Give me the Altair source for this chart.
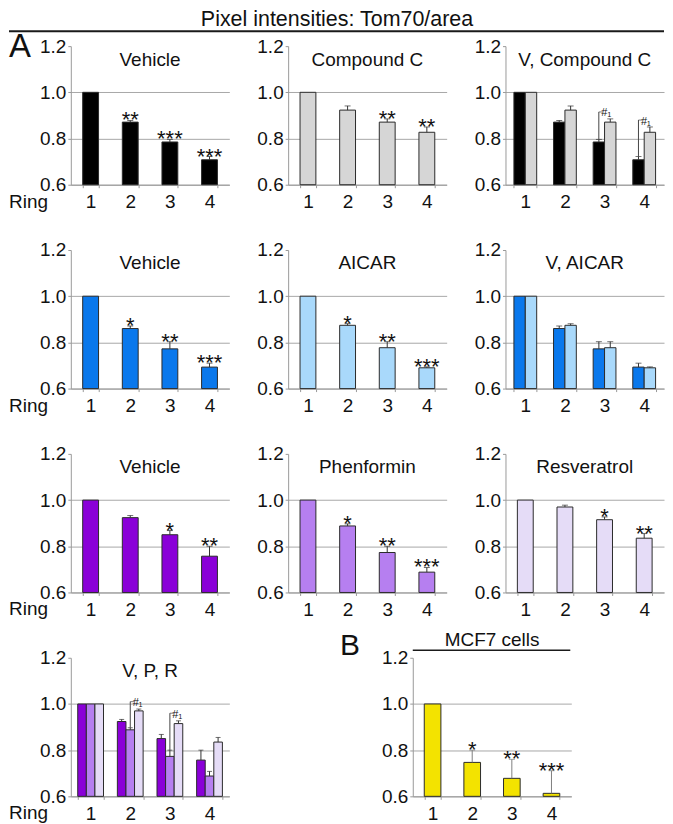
import altair as alt
import pandas as pd

FONT = "Liberation Sans"

rings = ["1", "2", "3", "4"]
y_ticks = [0.6, 0.8, 1.0, 1.2]

# Row 1
veh_cc = [1.0, 0.871, 0.785, 0.708]
veh_cc_err = [0.0, 0.007, 0.011, 0.014]
veh_cc_sig = ["", "**", "***", "***"]
cc = [1.0, 0.923, 0.871, 0.827]
cc_err = [0.0, 0.018, 0.014, 0.023]
cc_sig = ["", "", "**", "**"]
# Row 2
veh_ai = [1.0, 0.860, 0.772, 0.693]
veh_ai_err = [0.0, 0.011, 0.031, 0.017]
veh_ai_sig = ["", "*", "**", "***"]
aicar = [1.0, 0.874, 0.777, 0.690]
aicar_err = [0.0, 0.007, 0.026, 0.004]
aicar_sig = ["", "*", "**", "***"]
# Row 3
veh_pr = [1.0, 0.924, 0.850, 0.757]
veh_pr_err = [0.0, 0.009, 0.018, 0.043]
veh_pr_sig = ["", "", "*", "**"]
phen = [1.0, 0.888, 0.773, 0.688]
phen_err = [0.0, 0.009, 0.027, 0.020]
phen_sig = ["", "*", "**", "***"]
resv = [1.0, 0.970, 0.915, 0.835]
resv_err = [0.0, 0.008, 0.012, 0.020]
resv_sig = ["", "", "*", "**"]
# Panel B
mcf7 = [1.0, 0.747, 0.678, 0.613]
mcf7_err = [0.0, 0.053, 0.082, 0.098]
mcf7_sig = ["", "*", "**", "***"]

# "#1" comparison brackets
vcc_br_rings = ["3", "4"]
vcc_br_low = [0.796, 0.722]
vcc_br_high = [0.915, 0.880]
vpr_br_rings = ["2", "3"]
vpr_br_low = [0.897, 0.800]
vpr_br_high = [1.010, 0.960]

series_names = ["Vehicle C", "Compound C", "Vehicle A", "AICAR",
                "Vehicle P", "Phenformin", "Resveratrol", "MCF7"]
series_colors = ["#000000", "#d6d6d6", "#0a78ec", "#a9d9fb",
                 "#8a00d8", "#b67ff0", "#e5dcf7", "#f3e300"]

W, H = 159, 139
TOP = 37   # common top extent of each row
LEFT = -62  # left edge of "Ring" / "A" relative to first panel


def frame(series, vals, errs, sigs):
    return pd.DataFrame({"ring": rings, "value": vals, "err": errs,
                         "sig": sigs, "series": series})


def text_layer(txt, x, y, size, align="center", baseline="alphabetic", opacity=1.0):
    return alt.Chart(pd.DataFrame({"t": [txt]})).mark_text(
        font=FONT, fontSize=size, color="#111111", align=align,
        baseline=baseline, opacity=opacity
    ).encode(x=alt.value(x), y=alt.value(y), text="t:N")


def hline(x1, x2, y, width):
    return alt.Chart(pd.DataFrame({"a": [0]})).mark_rule(
        color="#1a1a1a", strokeWidth=width
    ).encode(x=alt.value(x1), x2=alt.value(x2), y=alt.value(y))


def panel(df, title, order, pad, width=W, err_color="#333333", cap=6,
          stars=True, brackets=None, extras=()):
    n = len(order)
    bw = (width / 4) * (1 - pad) / n
    xscale = alt.Scale(domain=rings, paddingInner=pad, paddingOuter=pad / 2)
    yscale = alt.Scale(domain=[0.6, 1.2], nice=False, zero=False)
    x_axis = alt.Axis(labelAngle=0, tickBand="extent", labelPadding=5, tickSize=3)
    y_axis = alt.Axis(values=y_ticks, format=".1f", grid=True, gridColor="#a8a8a8",
                      gridOpacity={"condition": {"test": "datum.value > 1.1", "value": 0},
                                   "value": 1},
                      labelPadding=2, tickSize=3)

    def X():
        return alt.X("ring:N", scale=xscale, title=None, axis=x_axis)

    def Y(field):
        return alt.Y(field, scale=yscale, title=None, axis=y_axis)

    color = alt.Color("series:N", scale=alt.Scale(domain=series_names, range=series_colors),
                      legend=None)
    layers = []
    for i, s in enumerate(order):
        off = (i - (n - 1) / 2) * bw
        base = alt.Chart(df).transform_filter(alt.datum.series == s)
        bar_kw = {"xOffset": off}
        if n > 1:
            bar_kw["width"] = bw
        layers.append(base.mark_bar(stroke="#2b2b2b", strokeWidth=1, **bar_kw).encode(
            x=X(), y=Y("value:Q"), y2=alt.Y2Datum(0.6), color=color))
        e = base.transform_filter("datum.err > 0").transform_calculate(
            top="datum.value + datum.err")
        layers.append(e.mark_rule(color=err_color, strokeWidth=1, xOffset=off).encode(
            x=X(), y=Y("value:Q"), y2="top:Q"))
        layers.append(e.mark_tick(color=err_color, thickness=1, size=cap, xOffset=off).encode(
            x=X(), y=Y("top:Q")))
        if stars:
            st = base.transform_filter("datum.sig != ''").transform_calculate(
                top="datum.value + datum.err")
            layers.append(st.mark_text(font=FONT, fontSize=22, baseline="alphabetic", dy=7,
                                       color="#111111", xOffset=off).encode(
                x=X(), y=Y("top:Q"), text="sig:N"))
    if brackets is not None:
        bdf, dx = brackets
        bc = alt.Chart(bdf)
        layers.append(bc.mark_rule(color="#444444", strokeWidth=1, xOffset=dx).encode(
            x=X(), y=Y("low:Q"), y2="high:Q"))
        layers.append(bc.mark_tick(color="#444444", thickness=1, size=4, xOffset=dx + 2).encode(
            x=X(), y=Y("high:Q")))
        layers.append(bc.mark_text(font=FONT, fontSize=11, align="left", baseline="middle",
                                   dx=dx + 2.5, dy=1.5, color="#111111").encode(
            x=X(), y=Y("high:Q"), text="label:N"))
    if title:
        layers.append(text_layer(title, width / 2, 19.5, 19))
    layers.extend(extras)
    return alt.layer(*layers).properties(width=width, height=H)


def ring_label():
    return text_layer("Ring", LEFT, H + 8, 19, align="left", baseline="top")


def spacer():
    return text_layer(" ", 0, -TOP, 10, align="left", baseline="top", opacity=0)


vcc_df = pd.concat([frame("Vehicle C", veh_cc, veh_cc_err, veh_cc_sig),
                    frame("Compound C", cc, cc_err, cc_sig)], ignore_index=True)
vai_df = pd.concat([frame("Vehicle A", veh_ai, veh_ai_err, veh_ai_sig),
                    frame("AICAR", aicar, aicar_err, aicar_sig)], ignore_index=True)
vpr_df = pd.concat([frame("Vehicle P", veh_pr, veh_pr_err, veh_pr_sig),
                    frame("Phenformin", phen, phen_err, phen_sig),
                    frame("Resveratrol", resv, resv_err, resv_sig)], ignore_index=True)
vcc_br = pd.DataFrame({"ring": vcc_br_rings, "low": vcc_br_low, "high": vcc_br_high,
                       "label": "#\u2081"})
vpr_br = pd.DataFrame({"ring": vpr_br_rings, "low": vpr_br_low, "high": vpr_br_high,
                       "label": "#\u2081"})

SP = 59
RIGHT = 3 * W + 2 * SP  # right edge of the third panel

p1 = panel(frame("Vehicle C", veh_cc, veh_cc_err, veh_cc_sig), "Vehicle", ["Vehicle C"], 0.6,
           extras=[ring_label(),
                   text_layer("A", LEFT, 11, 33, align="left"),
                   text_layer("Pixel intensities: Tom70/area", 267, -20, 21.5),
                   hline(LEFT, RIGHT, -15, 2)])
p2 = panel(frame("Compound C", cc, cc_err, cc_sig), "Compound C", ["Compound C"], 0.6)
p3 = panel(vcc_df, "V, Compound C", ["Vehicle C", "Compound C"], 0.425, stars=False,
           brackets=(vcc_br, -5.75))

p4 = panel(frame("Vehicle A", veh_ai, veh_ai_err, veh_ai_sig), "Vehicle", ["Vehicle A"], 0.6,
           extras=[ring_label(), spacer()])
p5 = panel(frame("AICAR", aicar, aicar_err, aicar_sig), "AICAR", ["AICAR"], 0.6)
p6 = panel(vai_df, "V, AICAR", ["Vehicle A", "AICAR"], 0.425, stars=False)

p7 = panel(frame("Vehicle P", veh_pr, veh_pr_err, veh_pr_sig), "Vehicle", ["Vehicle P"], 0.6,
           extras=[ring_label(), spacer()])
p8 = panel(frame("Phenformin", phen, phen_err, phen_sig), "Phenformin", ["Phenformin"], 0.6)
p9 = panel(frame("Resveratrol", resv, resv_err, resv_sig), "Resveratrol", ["Resveratrol"], 0.6)

p10 = panel(vpr_df, "V, P, R", ["Vehicle P", "Phenformin", "Resveratrol"], 0.35, cap=5,
            stars=False, brackets=(vpr_br, 0.0), extras=[ring_label(), spacer()])
pB = panel(frame("MCF7", mcf7, mcf7_err, mcf7_sig), "", ["MCF7"], 0.58, width=159,
           err_color="#808080",
           extras=[text_layer("B", -73, -2.5, 30, align="left"),
                   text_layer("MCF7 cells", 79.5, -11.5, 19),
                   hline(0, 158, -7.5, 1.5)])

row1 = alt.hconcat(p1, p2, p3, spacing=SP, bounds="flush")
row2 = alt.hconcat(p4, p5, p6, spacing=SP, bounds="flush")
row3 = alt.hconcat(p7, p8, p9, spacing=SP, bounds="flush")
row4 = alt.hconcat(p10, pB, spacing=184, bounds="flush")

chart = alt.vconcat(row1, row2, row3, row4, spacing=1.5).properties(
    padding=0
).configure(font=FONT).configure_view(strokeWidth=0, stroke="transparent").configure_axis(
    labelFont=FONT, labelFontSize=19, labelColor="#111111",
    domainColor="#9a9a9a", tickColor="#9a9a9a"
)

chart.save("out.html", embed_options={"renderer": "svg", "actions": False})
